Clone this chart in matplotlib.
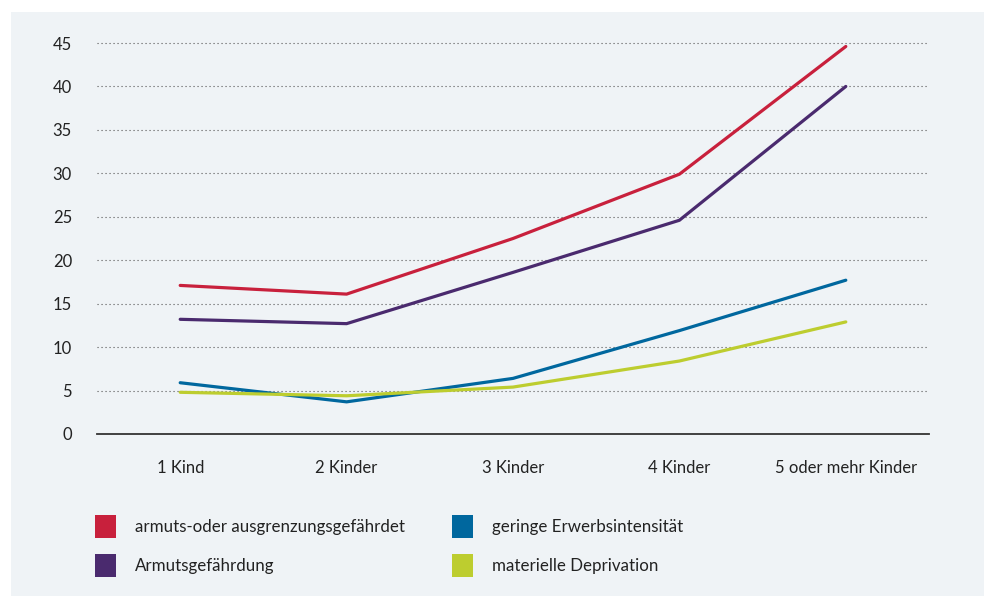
import matplotlib.pyplot as plt
from matplotlib.patches import Rectangle

# Data
categories = ['1 Kind', '2 Kinder', '3 Kinder', '4 Kinder', '5 oder mehr Kinder']
armuts_ausgrenzung = [17.1, 16.1, 22.5, 29.9, 44.6]
armutsgefaehrdung = [13.2, 12.7, 18.6, 24.6, 40.0]
erwerbsintensitaet = [5.9, 3.7, 6.4, 11.9, 17.7]
deprivation = [4.8, 4.4, 5.4, 8.4, 12.9]

series_names = ['armuts-oder ausgrenzungsgefährdet', 'Armutsgefährdung',
                'geringe Erwerbsintensität', 'materielle Deprivation']
colors = ['#C8203C', '#4A2A6E', '#00679E', '#BDCD2F']
bg = '#EFF3F6'

plt.rcParams['font.family'] = ['Lato', 'DejaVu Sans']

fig = plt.figure(figsize=(9.84, 5.96), dpi=100)
fig.patch.set_facecolor('white')
# light grey panel behind everything
fig.patches.append(Rectangle((11 / 984, 0), 1, 1 - 12 / 596, transform=fig.transFigure,
                             facecolor=bg, edgecolor='none', zorder=-10))

ax = fig.add_axes([97 / 984, 1 - 434 / 596, 832 / 984, 391 / 596])
ax.set_facecolor('none')

x = range(len(categories))
for vals, c in zip([armuts_ausgrenzung, armutsgefaehrdung, erwerbsintensitaet, deprivation], colors):
    ax.plot(x, vals, color=c, linewidth=2.3, solid_capstyle='round', zorder=3)

ax.set_xlim(-0.5, 4.5)
ax.set_ylim(0, 45)
ax.set_yticks(range(0, 46, 5))
ax.set_xticks(list(x))
ax.set_xticklabels(categories)

for y in range(5, 46, 5):
    ax.axhline(y, color='#555555', linewidth=0.8, linestyle=(0, (1, 2.6)), zorder=1, clip_on=False)
ax.axhline(0, color='#333333', linewidth=1.3, zorder=2, clip_on=False)

for s in ax.spines.values():
    s.set_visible(False)
ax.tick_params(axis='both', length=0, labelsize=12, colors='#222222')
ax.tick_params(axis='y', pad=18)
ax.tick_params(axis='x', pad=19)
for lbl in ax.get_yticklabels():
    lbl.set_horizontalalignment('right')

# manual legend
legend_pos = [(95, 527), (95, 566), (452, 527), (452, 566)]
for (px, py), name, c in zip(legend_pos, series_names, colors):
    fig.patches.append(Rectangle((px / 984, 1 - (py + 11) / 596), 21 / 984, 23 / 596,
                                 transform=fig.transFigure, facecolor=c, edgecolor='none'))
    fig.text((px + 40) / 984, 1 - py / 596, name, fontsize=12.2, color='#222222', va='center', ha='left')

fig.savefig('out.png', dpi=100, facecolor=fig.get_facecolor())
